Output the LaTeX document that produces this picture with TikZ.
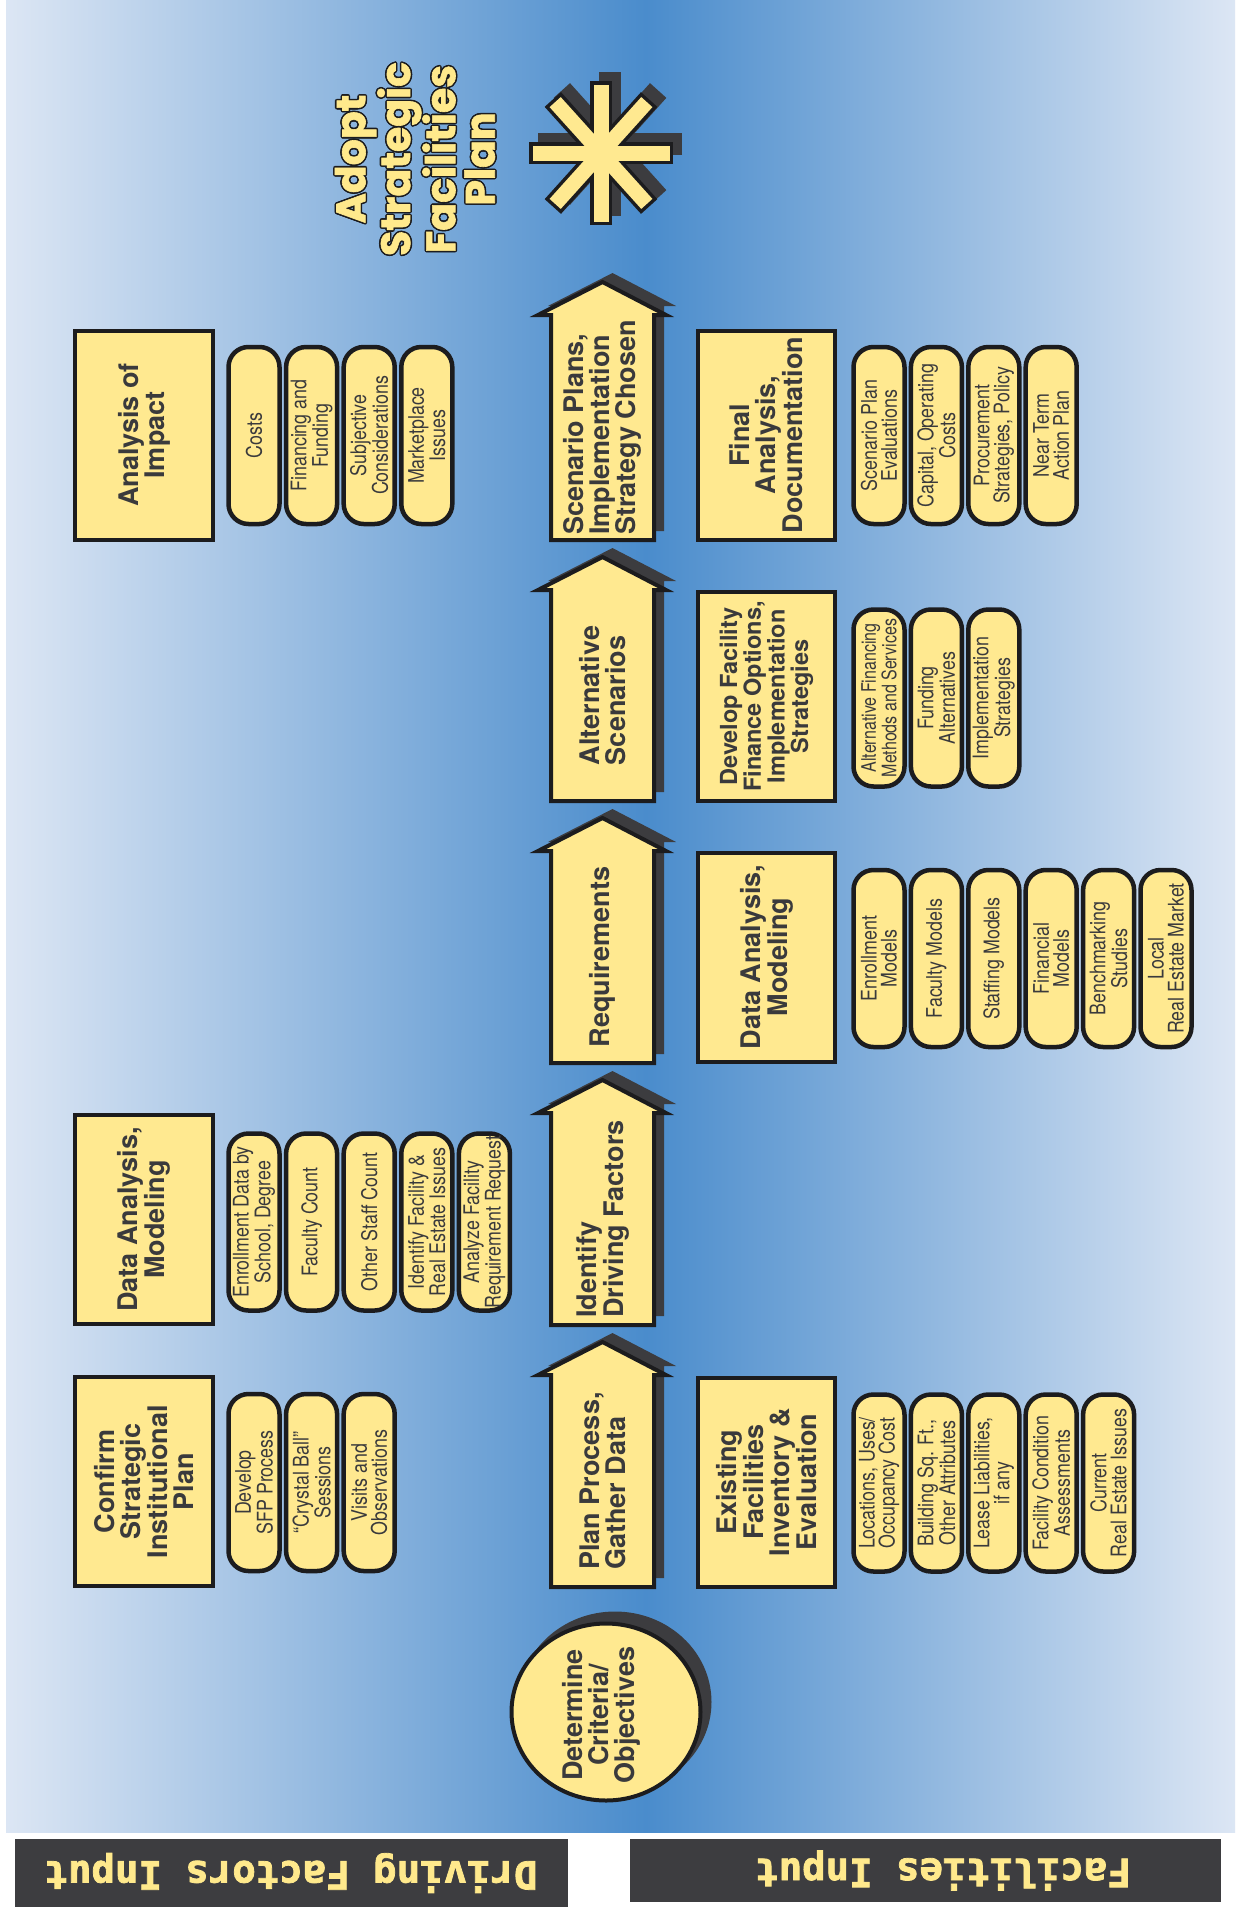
\documentclass[tikz,border=0pt]{standalone}
\usepackage{fontspec}
\setmainfont{TeX Gyre Heros}
\newfontfamily\narrowfont[FakeStretch=0.83]{TeX Gyre Heros}
\newfontfamily\narrowerfont[FakeStretch=0.80]{TeX Gyre Heros}
\newfontfamily\labelfont[FakeBold=2]{DejaVu Sans Mono}
\newfontfamily\titlefont[FakeBold=1.5]{Poppins}
\usetikzlibrary{shapes.geometric}
\definecolor{fillY}{HTML}{FFE990}
\definecolor{lineK}{HTML}{1C1C1E}
\definecolor{txtK}{HTML}{3A3A3C}
\definecolor{shadK}{HTML}{3C3C3F}
\definecolor{bgEdge}{HTML}{DCE6F4}
\definecolor{bgMid}{HTML}{4A8CCC}
\definecolor{labBox}{HTML}{3D3D40}
\definecolor{labTxt}{HTML}{FFE98C}
\tikzset{
  box/.style={draw=lineK, fill=fillY, line width=4pt, rotate=90,
    minimum width=209pt, minimum height=138pt, inner sep=0pt, align=center,
    text=txtK, font=\bfseries\fontsize{27}{26}\selectfont},
  pill/.style={draw=lineK, fill=fillY, line width=4.5pt, rotate=90,
    rounded corners=20pt, minimum width=177pt, minimum height=51pt,
    inner sep=0pt, align=center, text=txtK,
    font=\narrowfont\fontsize{21.5}{20}\selectfont},
  arrowtxt/.style={rotate=90, align=left, text=txtK, inner sep=0pt,
    font=\bfseries\fontsize{27}{26}\selectfont},
  titletxt/.style={rotate=90, align=center, inner sep=0pt,
    font=\titlefont\bfseries\fontsize{41}{39.5}\selectfont},
  labbox/.style={fill=labBox, inner sep=0pt},
  labtext/.style={rotate=180, text=labTxt, inner sep=0pt,
    font=\labelfont\bfseries\fontsize{39}{39}\selectfont},
}
\newcommand\flowarrow[4]{%
  \fill[shadK, shift={(10,-9)}] (551,#3) -- (551,#2) -- (538,#2) -- (602.5,{#2-33}) -- (666,#2) -- (654,#2) -- (654,#3) -- cycle;
  \draw[lineK, fill=fillY, line width=4pt, line join=miter] (551,#3) -- (551,#2) -- (538,#2) -- (602.5,{#2-33}) -- (666,#2) -- (654,#2) -- (654,#3) -- cycle;
  \node[arrowtxt] (#1) at (602.5,{(#2+#3)/2}) {#4};
}
\begin{document}
\begin{tikzpicture}[x=1pt,y=-1pt]
\useasboundingbox (0,0) rectangle (1236,1912);
\fill[white] (0,0) rectangle (1236,1912);
% background gradient
\shade[left color=bgEdge, right color=bgMid] (6,0) rectangle (646,1832);
\shade[left color=bgMid, right color=bgEdge] (646,0) rectangle (1235,1832);

% left column boxes
\node[box] (confirm) at (144,1481.5) {Confirm\\Strategic\\Institutional\\Plan};
\node[box] (dataL) at (144,1219.5) {Data Analysis,\\Modeling};
\node[box] (impact) at (144,435) {Analysis of\\Impact};
% right column boxes
\node[box, minimum height=137pt] (exist) at (766.5,1482) {Existing\\Facilities\\Inventory \&\\Evaluation};
\node[box, minimum height=137pt] (dataR) at (766.5,957) {Data Analysis,\\Modeling};
\node[box, minimum height=137pt, font=\bfseries\fontsize{23.5}{22}\selectfont] (develop) at (766.5,696.5) {Develop Facility\\Finance Options,\\Implementation\\Strategies};
\node[box, minimum height=137pt] (final) at (766.5,435) {Final\\Analysis,\\Documentation};

% left pills
\foreach \t [count=\i from 0] in {{Develop\\SFP Process},{“Crystal Ball”\\Sessions},{Visits and\\Observations}}
  \node[pill] (pc\i) at ({254+57.6*\i},1482.5) {\t};
\foreach \t [count=\i from 0] in {{Enrollment Data by\\School, Degree},{Faculty Count},{Other Staff Count},{Identify Facility \&\\Real Estate Issues},{Analyze Facility\\Requirement Request}}
  \node[pill] (pd\i) at ({254+57.6*\i},1222) {\t};
\foreach \t [count=\i from 0] in {{Costs},{Financing and\\Funding},{Subjective\\Considerations},{Marketplace\\Issues}}
  \node[pill] (pi\i) at ({254+57.6*\i},435.5) {\t};
% right pills
\foreach \t [count=\i from 0] in {{Locations, Uses/\\Occupancy Cost},{Building Sq. Ft.,\\Other Attributes},{Lease Liabilities,\\if any},{Facility Condition\\Assessments},{Current\\Real Estate Issues}}
  \node[pill] (pe\i) at ({879+57.4*\i},1483) {\t};
\foreach \t [count=\i from 0] in {{Enrollment\\Models},{Faculty Models},{Staffing Models},{Financial\\Models},{Benchmarking\\Studies},{Local\\Real Estate Market}}
  \node[pill] (pr\i) at ({879+57.4*\i},958.5) {\t};
\node[pill, font=\narrowerfont\fontsize{20}{18}\selectfont] (pv0) at (879,698) {Alternative Financing\\Methods and Services};
\foreach \t [count=\i from 1] in {{Funding\\Alternatives},{Implementation\\Strategies}}
  \node[pill] (pv\i) at ({879+57.4*\i},698) {\t};
\foreach \t [count=\i from 0] in {{Scenario Plan\\Evaluations},{Capital, Operating\\Costs},{Procurement\\Strategies, Policy},{Near Term\\Action Plan}}
  \node[pill] (pf\i) at ({879+57.4*\i},435.5) {\t};

% process arrows
\flowarrow{plan}{1375}{1587}{Plan Process,\\Gather Data}
\flowarrow{ident}{1113}{1325}{Identify\\Driving Factors}
\flowarrow{req}{851}{1063}{Requirements}
\flowarrow{alt}{590}{801}{Alternative\\Scenarios}
\flowarrow{scen}{315}{540}{Scenario Plans,\\Implementation\\Strategy Chosen}

% start circle
\fill[shadK] (615,1702) ellipse [x radius=96.5pt, y radius=90.5pt];
\node[ellipse, draw=lineK, fill=fillY, line width=4pt, minimum width=189pt, minimum height=177pt, inner sep=0pt] (crit) at (606,1712) {};
\node[arrowtxt, align=center] (crittxt) at (601,1715) {Determine\\Criteria/\\Objectives};

% asterisk
\foreach \a in {0,48,90,132}
  \draw[shadK, line width=22pt, shift={(9,-9)}] (601,153) ++(\a:72) -- ++(\a+180:144);
\foreach \a in {0,48,90,132}
  \draw[lineK, line width=22pt] (601,153) ++(\a:72) -- ++(\a+180:144);
\foreach \a in {0,48,90,132}
  \draw[fillY, line width=15pt] (601,153) ++(\a:68.5) -- ++(\a+180:137);

% title
\foreach \dx/\dy [count=\k] in {1.6/0,-1.6/0,0/1.6,0/-1.6,1.1/1.1,-1.1/1.1,1.1/-1.1,-1.1/-1.1}
  \node[titletxt, text=lineK] (tsh\k) at ({415+\dx},{159+\dy}) {Adopt\\Strategic\\Facilities\\Plan};
\node[titletxt, text=labTxt] (title) at (415,159) {Adopt\\Strategic\\Facilities\\Plan};

% bottom labels
\fill[labBox] (15,1839) rectangle (568,1907);
\node[labtext] (lab1) at (291,1873) {Driving Factors Input};
\fill[labBox] (630,1839) rectangle (1221,1902);
\node[labtext] (lab2) at (943,1870.5) {Facilities Input};
\end{tikzpicture}
\end{document}
